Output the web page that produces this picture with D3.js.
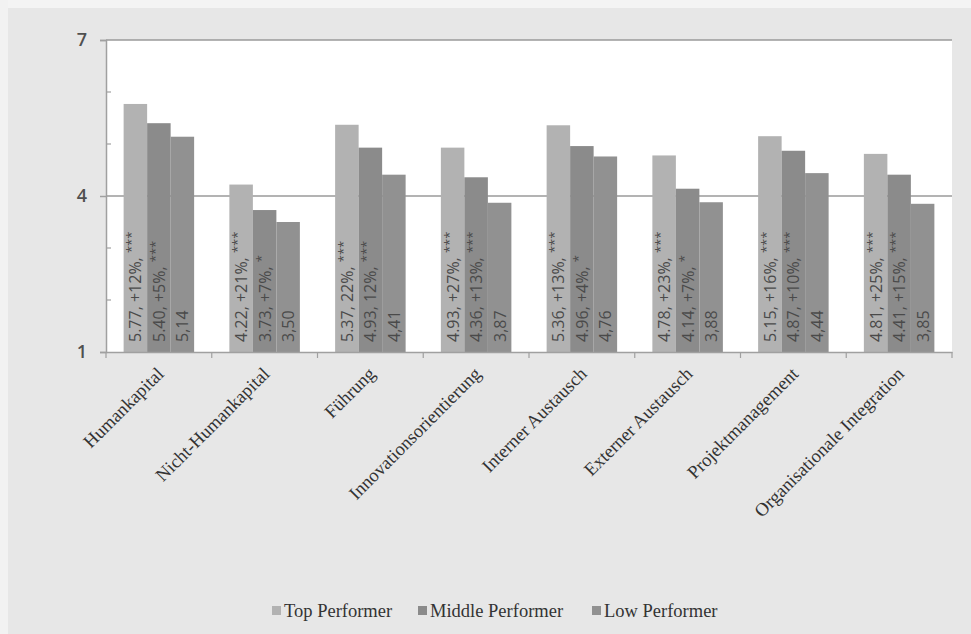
<!DOCTYPE html>
<html>
<head>
<meta charset="utf-8">
<script src="https://cdn.jsdelivr.net/npm/d3@7"></script>
<style>
  body { margin: 0; background: #e7e7e7; }
  svg { display: block; }
</style>
</head>
<body>
<div id="chart"></div>
<script>
/* DATA */
const categories = ["Humankapital", "Nicht-Humankapital", "Führung", "Innovationsorientierung",
  "Interner Austausch", "Externer Austausch", "Projektmanagement", "Organisationale Integration"];
const seriesNames = ["Top Performer", "Middle Performer", "Low Performer"];
const topValues = [5.77, 4.22, 5.37, 4.93, 5.36, 4.78, 5.15, 4.81];
const middleValues = [5.40, 3.73, 4.93, 4.36, 4.96, 4.14, 4.87, 4.41];
const lowValues = [5.14, 3.50, 4.41, 3.87, 4.76, 3.88, 4.44, 3.85];
const topLabels = ["5.77, +12%, ", "4.22, +21%, ", "5.37, 22%, ", "4.93, +27%, ",
  "5.36, +13%, ", "4.78, +23%, ", "5.15, +16%, ", "4.81, +25%, "];
const topStars = ["***", "***", "***", "***", "***", "***", "***", "***"];
const middleLabels = ["5.40, +5%, ", "3.73, +7%, ", "4.93, 12%, ", "4.36, +13%, ",
  "4.96, +4%, ", "4.14, +7%, ", "4.87, +10%, ", "4.41, +15%, "];
const middleStars = ["***", "*", "***", "***", "*", "*", "***", "***"];
const lowLabels = ["5,14", "3,50", "4,41", "3,87", "4,76", "3,88", "4,44", "3,85"];
const majorTicks = [1, 4, 7];
const minorTicks = [2, 3, 5, 6];

const colors = ["#b2b2b2", "#8b8b8b", "#919191"];

/* SIZES */
const width = 971, height = 634;
const margin = { top: 40, right: 19, bottom: 282, left: 106 };

const rows = categories.map((c, i) => ({
  cat: c,
  bars: [
    { s: 0, v: topValues[i], label: topLabels[i], stars: topStars[i] },
    { s: 1, v: middleValues[i], label: middleLabels[i], stars: middleStars[i] },
    { s: 2, v: lowValues[i], label: lowLabels[i], stars: "" }
  ]
}));

const svg = d3.select("#chart").append("svg")
  .attr("width", width)
  .attr("height", height);

// light strip of the scanned page
svg.append("rect").attr("x", 0).attr("y", 0).attr("width", width).attr("height", 8).attr("fill", "#f4f4f4");
svg.append("rect").attr("x", 0).attr("y", 0).attr("width", 8).attr("height", height).attr("fill", "#f2f2f2");

// SCALES
const xScale = d3.scaleBand()
  .domain(categories)
  .range([margin.left, width - margin.right])
  .paddingInner(1 / 3)
  .paddingOuter(1 / 6);

const xSub = d3.scaleBand()
  .domain([0, 1, 2])
  .range([0, xScale.bandwidth()]);

const yScale = d3.scaleLinear()
  .domain([1, 7])
  .range([height - margin.bottom, margin.top]);

// plot area
svg.append("rect")
  .attr("x", margin.left)
  .attr("y", margin.top)
  .attr("width", width - margin.right - margin.left)
  .attr("height", height - margin.bottom - margin.top)
  .attr("fill", "#ffffff");

// gridlines
svg.append("g")
  .selectAll("line")
  .data([4, 7])
  .join("line")
  .attr("x1", margin.left)
  .attr("x2", width - margin.right)
  .attr("y1", d => yScale(d))
  .attr("y2", d => yScale(d))
  .attr("stroke", "#9a9a9a")
  .attr("stroke-width", 1.5);

// BARS
const groups = svg.append("g")
  .selectAll("g")
  .data(rows)
  .join("g")
  .attr("transform", d => `translate(${xScale(d.cat)},0)`);

groups.selectAll("rect")
  .data(d => d.bars)
  .join("rect")
  .attr("x", d => xSub(d.s))
  .attr("width", xSub.bandwidth())
  .attr("y", d => yScale(d.v))
  .attr("height", d => yScale(1) - yScale(d.v))
  .attr("fill", d => colors[d.s]);

const labels = groups.selectAll("text")
  .data(d => d.bars)
  .join("text")
  .attr("transform", d => `translate(${xSub(d.s) + xSub.bandwidth() / 2 + 6},${yScale(1) - 10}) rotate(-90)`)
  .attr("font-family", "'Open Sans', sans-serif")
  .attr("font-size", 16)
  .attr("fill", "#4a4a4a");

labels.append("tspan").text(d => d.label);
labels.append("tspan")
  .attr("dy", -5)
  .attr("font-size", 13)
  .text(d => d.stars);

// Y AXIS
const yAxis = d3.axisLeft(yScale)
  .tickValues(majorTicks)
  .tickSize(6)
  .tickPadding(13)
  .tickFormat(d3.format("d"));

const yAxisGroup = svg.append("g")
  .attr("transform", `translate(${margin.left},0)`)
  .call(yAxis);

yAxisGroup.select(".domain").attr("stroke", "#a0a0a0").attr("stroke-width", 1.5);
yAxisGroup.selectAll(".tick line").attr("stroke", "#a0a0a0").attr("stroke-width", 1.5);
yAxisGroup.selectAll(".tick text")
  .attr("font-family", "'Open Sans', sans-serif")
  .attr("font-size", 18)
  .attr("font-weight", 600)
  .attr("fill", "#505050");

svg.append("g")
  .selectAll("line")
  .data(minorTicks)
  .join("line")
  .attr("x1", margin.left)
  .attr("x2", margin.left + 5)
  .attr("y1", d => yScale(d))
  .attr("y2", d => yScale(d))
  .attr("stroke", "#a0a0a0")
  .attr("stroke-width", 1.2);

// X AXIS
const xAxisGroup = svg.append("g")
  .attr("transform", `translate(0,${yScale(1)})`)
  .call(d3.axisBottom(xScale).tickSize(0).tickFormat(""));
xAxisGroup.select(".domain").attr("stroke", "#a0a0a0").attr("stroke-width", 1.5);

const step = xScale.step();
const bounds = categories.map(c => xScale(c) - step * xScale.paddingOuter());
bounds.push(width - margin.right);

svg.append("g")
  .selectAll("line")
  .data(bounds)
  .join("line")
  .attr("x1", d => d)
  .attr("x2", d => d)
  .attr("y1", yScale(1))
  .attr("y2", yScale(1) + 6)
  .attr("stroke", "#a0a0a0")
  .attr("stroke-width", 1.2);

// category labels
svg.append("g")
  .selectAll("text")
  .data(categories)
  .join("text")
  .attr("transform", d => `translate(${xScale(d) + xScale.bandwidth() / 2 + 6},${yScale(1) + 23}) rotate(-45)`)
  .attr("text-anchor", "end")
  .attr("font-family", "'Liberation Serif', serif")
  .attr("font-size", 18.5)
  .attr("fill", "#333")
  .text(d => d);

// LEGEND
const legendX = [272, 418, 592];
const legend = svg.append("g")
  .selectAll("g")
  .data(seriesNames)
  .join("g")
  .attr("transform", (d, i) => `translate(${legendX[i]},611)`);

legend.append("rect")
  .attr("x", 0)
  .attr("y", -5)
  .attr("width", 9)
  .attr("height", 9)
  .attr("fill", (d, i) => colors[i]);

legend.append("text")
  .attr("x", 12)
  .attr("y", 6)
  .attr("font-family", "'Liberation Serif', serif")
  .attr("font-size", 18.5)
  .attr("fill", "#333")
  .text(d => d);
</script>
</body>
</html>
